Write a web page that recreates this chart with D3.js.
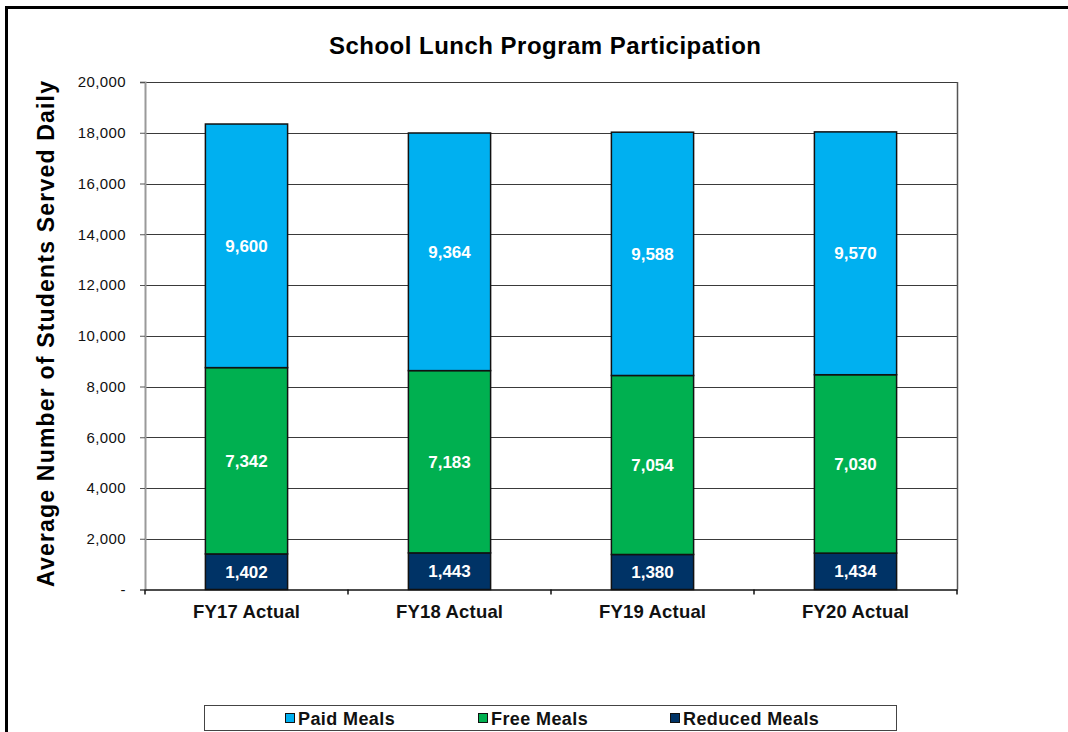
<!DOCTYPE html>
<html>
<head>
<meta charset="utf-8">
<script src="https://cdn.jsdelivr.net/npm/d3@7"></script>
<style>
  html, body { margin: 0; padding: 0; background: #fff; }
  svg { display: block; font-family: "Liberation Sans", Arial, sans-serif; }
</style>
</head>
<body>
<div id="chart"></div>
<script>
// School lunch participation, stacked by meal type
const categories = ["FY17 Actual", "FY18 Actual", "FY19 Actual", "FY20 Actual"];
const reducedMeals = [1402, 1443, 1380, 1434];
const freeMeals = [7342, 7183, 7054, 7030];
const paidMeals = [9600, 9364, 9588, 9570];
const yTicks = [0, 2000, 4000, 6000, 8000, 10000, 12000, 14000, 16000, 18000, 20000];

const seriesNames = ["Reduced Meals", "Free Meals", "Paid Meals"];
const legendOrder = ["Paid Meals", "Free Meals", "Reduced Meals"];
const colors = { "Paid Meals": "#00b0f0", "Free Meals": "#00b050", "Reduced Meals": "#003366" };

const width = 1068, height = 732;
const plot = { left: 145, right: 957, top: 82, bottom: 589.5 };

const rows = categories.map((c, i) => ({
    cat: c,
    "Reduced Meals": reducedMeals[i],
    "Free Meals": freeMeals[i],
    "Paid Meals": paidMeals[i]
}));
const stacked = d3.stack().keys(seriesNames)(rows);

const svg = d3.select("#chart").append("svg")
    .attr("width", width)
    .attr("height", height);

// outer frame (top and left edges only are visible)
svg.append("line").attr("x1", 5).attr("x2", width).attr("y1", 7.5).attr("y2", 7.5)
    .attr("stroke", "#000").attr("stroke-width", 3);
svg.append("line").attr("x1", 6.5).attr("x2", 6.5).attr("y1", 6).attr("y2", height)
    .attr("stroke", "#000").attr("stroke-width", 3);

const x = d3.scaleBand().domain(categories).range([plot.left, plot.right]).padding(0);
const y = d3.scaleLinear().domain([0, 20000]).range([plot.bottom, plot.top]);
const barW = x.bandwidth() * 0.405;

// gridlines
svg.append("g")
    .selectAll("line")
    .data(yTicks.filter(d => d > 0))
    .join("line")
    .attr("x1", plot.left).attr("x2", plot.right)
    .attr("y1", d => Math.round(y(d)) + 0.5).attr("y2", d => Math.round(y(d)) + 0.5)
    .attr("stroke", "#3a3a3a").attr("stroke-width", 1);

// right border of plot
svg.append("line")
    .attr("x1", plot.right + 0.5).attr("x2", plot.right + 0.5)
    .attr("y1", y(20000)).attr("y2", plot.bottom)
    .attr("stroke", "#555").attr("stroke-width", 1.5);

// y axis
const yAxis = d3.axisLeft(y).tickValues(yTicks).tickSize(5).tickPadding(14)
    .tickFormat(d => d === 0 ? "-" : d3.format(",")(d));
svg.append("g")
    .attr("transform", `translate(${plot.left},0)`)
    .call(yAxis)
    .call(g => g.select(".domain").attr("stroke", "#9a9a9a").attr("stroke-width", 2))
    .call(g => g.selectAll(".tick line").attr("stroke", "#555"))
    .call(g => g.selectAll(".tick text")
        .attr("font-size", "15px")
        .attr("letter-spacing", "0.4px")
        .attr("fill", "#111")
        .attr("font-family", "'Liberation Sans', Arial, sans-serif"));

// bars
const layer = svg.append("g")
    .selectAll("g")
    .data(stacked)
    .join("g")
    .attr("fill", d => colors[d.key]);

layer.selectAll("rect")
    .data(d => d)
    .join("rect")
    .attr("x", d => x(d.data.cat) + (x.bandwidth() - barW) / 2)
    .attr("y", d => y(d[1]))
    .attr("width", barW)
    .attr("height", d => y(d[0]) - y(d[1]))
    .attr("stroke", "#111")
    .attr("stroke-width", 1.5);

layer.selectAll("text")
    .data(d => d)
    .join("text")
    .attr("x", d => x(d.data.cat) + x.bandwidth() / 2)
    .attr("y", d => (y(d[0]) + y(d[1])) / 2 + 6)
    .attr("text-anchor", "middle")
    .attr("font-size", "17px")
    .attr("font-weight", "bold")
    .attr("fill", "#fff")
    .text(d => d3.format(",")(d[1] - d[0]));

// x axis
const xAxis = d3.axisBottom(x).tickSize(0).tickPadding(0).tickFormat("");
svg.append("g")
    .attr("transform", `translate(0,${plot.bottom})`)
    .call(xAxis)
    .call(g => g.select(".domain").attr("stroke", "#111").attr("stroke-width", 1.5));

// tick marks at category boundaries
const bounds = categories.map(c => x(c)).concat([plot.right]);
svg.append("g")
    .selectAll("line")
    .data(bounds)
    .join("line")
    .attr("x1", d => d).attr("x2", d => d)
    .attr("y1", plot.bottom).attr("y2", plot.bottom + 5)
    .attr("stroke", "#111").attr("stroke-width", 1.5);

svg.append("g")
    .selectAll("text")
    .data(categories)
    .join("text")
    .attr("x", d => x(d) + x.bandwidth() / 2)
    .attr("y", 617.5)
    .attr("text-anchor", "middle")
    .attr("font-size", "18.5px")
    .attr("font-weight", "bold")
    .attr("fill", "#111")
    .attr("textLength", 107)
    .attr("lengthAdjust", "spacing")
    .text(d => d);

// title
svg.append("text")
    .attr("x", 545)
    .attr("y", 54)
    .attr("text-anchor", "middle")
    .attr("font-size", "24px")
    .attr("font-weight", "bold")
    .attr("textLength", 432)
    .attr("lengthAdjust", "spacing")
    .text("School Lunch Program Participation");

// y axis title
svg.append("text")
    .attr("transform", "translate(54,334) rotate(-90)")
    .attr("text-anchor", "middle")
    .attr("font-size", "23px")
    .attr("font-weight", "bold")
    .attr("textLength", 506)
    .attr("lengthAdjust", "spacing")
    .text("Average Number of Students Served Daily");

// legend
const legend = svg.append("g");
legend.append("rect")
    .attr("x", 204.5).attr("y", 705.5)
    .attr("width", 692).attr("height", 25)
    .attr("fill", "#fff").attr("stroke", "#444").attr("stroke-width", 1);

const legendX = [285, 478, 670];
const item = legend.selectAll(".legend-item")
    .data(legendOrder)
    .join("g")
    .attr("class", "legend-item")
    .attr("transform", (d, i) => `translate(${legendX[i]},713)`);

item.append("rect")
    .attr("x", 0.5).attr("y", 0.5)
    .attr("width", 9).attr("height", 9)
    .attr("fill", d => colors[d])
    .attr("stroke", "#111").attr("stroke-width", 1);

item.append("text")
    .attr("x", 13)
    .attr("y", 12)
    .attr("font-size", "18px")
    .attr("font-weight", "bold")
    .attr("letter-spacing", "0.4px")
    .attr("fill", "#111")
    .text(d => d);
</script>
</body>
</html>
